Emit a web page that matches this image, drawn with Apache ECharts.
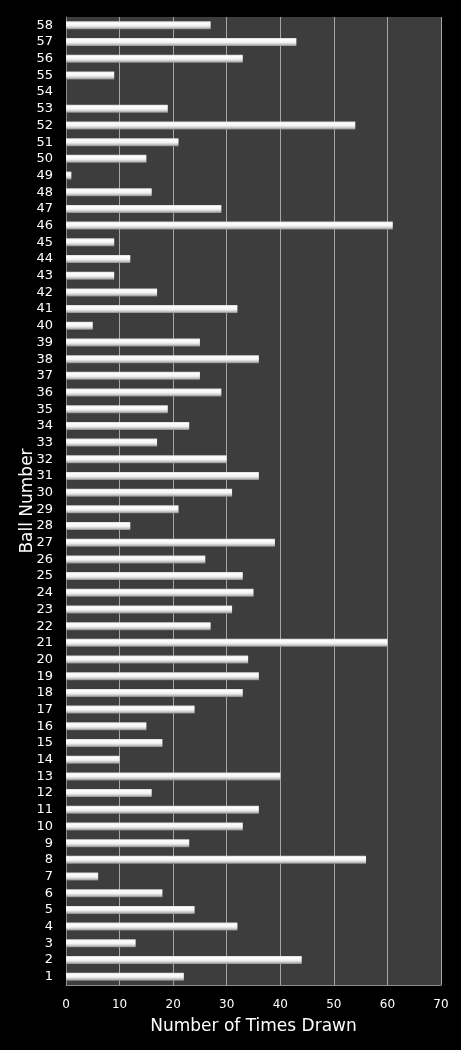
<!DOCTYPE html>
<html>
  <head>
    <meta charset="utf-8">
    <title>Ball Number Frequency</title>
    <style>
      html, body { margin: 0; padding: 0; background: #000; }
      #main { width: 461px; height: 1050px; }
    </style>
    <script src="https://cdn.jsdelivr.net/npm/echarts@6/dist/echarts.min.js"></script>
  </head>
  <body>
    <div id="main"></div>
    <script type="text/javascript">

      // ball numbers 1..58, bottom to top
      var balls = ['1','2','3','4','5','6','7','8','9','10','11','12','13','14','15','16','17','18','19','20',
                   '21','22','23','24','25','26','27','28','29','30','31','32','33','34','35','36','37','38','39','40',
                   '41','42','43','44','45','46','47','48','49','50','51','52','53','54','55','56','57','58']

      // times drawn, same order as balls
      var timesDrawn = [22,44,13,32,24,18,6,56,23,33,36,16,40,10,18,15,24,33,36,34,
                        60,27,31,35,33,26,39,12,21,31,36,30,17,23,19,29,25,36,25,5,
                        32,17,9,12,9,61,29,16,1,15,21,54,19,0,9,33,43,27]

      var xTicks = { min: 0, max: 70, interval: 10 }

      var myChart = echarts.init(document.getElementById('main'))

      var barFill = new echarts.graphic.LinearGradient(0, 0, 0, 1, [
        { offset: 0, color: '#d8d8d8' },
        { offset: 0.2, color: '#ffffff' },
        { offset: 0.55, color: '#f2f2f2' },
        { offset: 0.8, color: '#c4c4c4' },
        { offset: 1, color: '#8a8a8a' }
      ])

      var option = {
        backgroundColor: '#000000',
        animation: false,
        grid: {
          left: 66,
          right: 20,
          top: 17,
          bottom: 65,
          show: true,
          backgroundColor: '#3d3d3d',
          borderWidth: 0
        },
        xAxis: {
          type: 'value',
          min: xTicks.min,
          max: xTicks.max,
          interval: xTicks.interval,
          name: 'Number of Times Drawn',
          nameLocation: 'middle',
          nameGap: 33,
          nameMoveOverlap: false,
          nameTextStyle: { color: '#ffffff', fontSize: 17, fontFamily: 'DejaVu Sans' },
          axisLine: { show: true, lineStyle: { color: '#8c8c8c', width: 1 } },
          axisTick: { show: false },
          axisLabel: { color: '#ffffff', fontSize: 12, fontFamily: 'DejaVu Sans', margin: 14 },
          splitLine: { show: true, lineStyle: { color: '#a6a6a6', width: 1 } }
        },
        yAxis: {
          type: 'category',
          data: balls,
          name: 'Ball Number',
          nameLocation: 'middle',
          nameGap: 30,
          nameRotate: 90,
          nameMoveOverlap: false,
          nameTextStyle: { color: '#ffffff', fontSize: 17, fontFamily: 'DejaVu Sans' },
          axisLine: { show: true, lineStyle: { color: '#8c8c8c', width: 1 } },
          axisTick: { show: false },
          axisLabel: { color: '#ffffff', fontSize: 13, fontFamily: 'DejaVu Sans', margin: 13, interval: 0 },
          splitLine: { show: false }
        },
        series: [{
          name: 'Times Drawn',
          type: 'bar',
          data: timesDrawn,
          barWidth: 8,
          itemStyle: {
            color: barFill,
            borderWidth: 0
          }
        }]
      }

      myChart.setOption(option)
    </script>
  </body>
</html>
